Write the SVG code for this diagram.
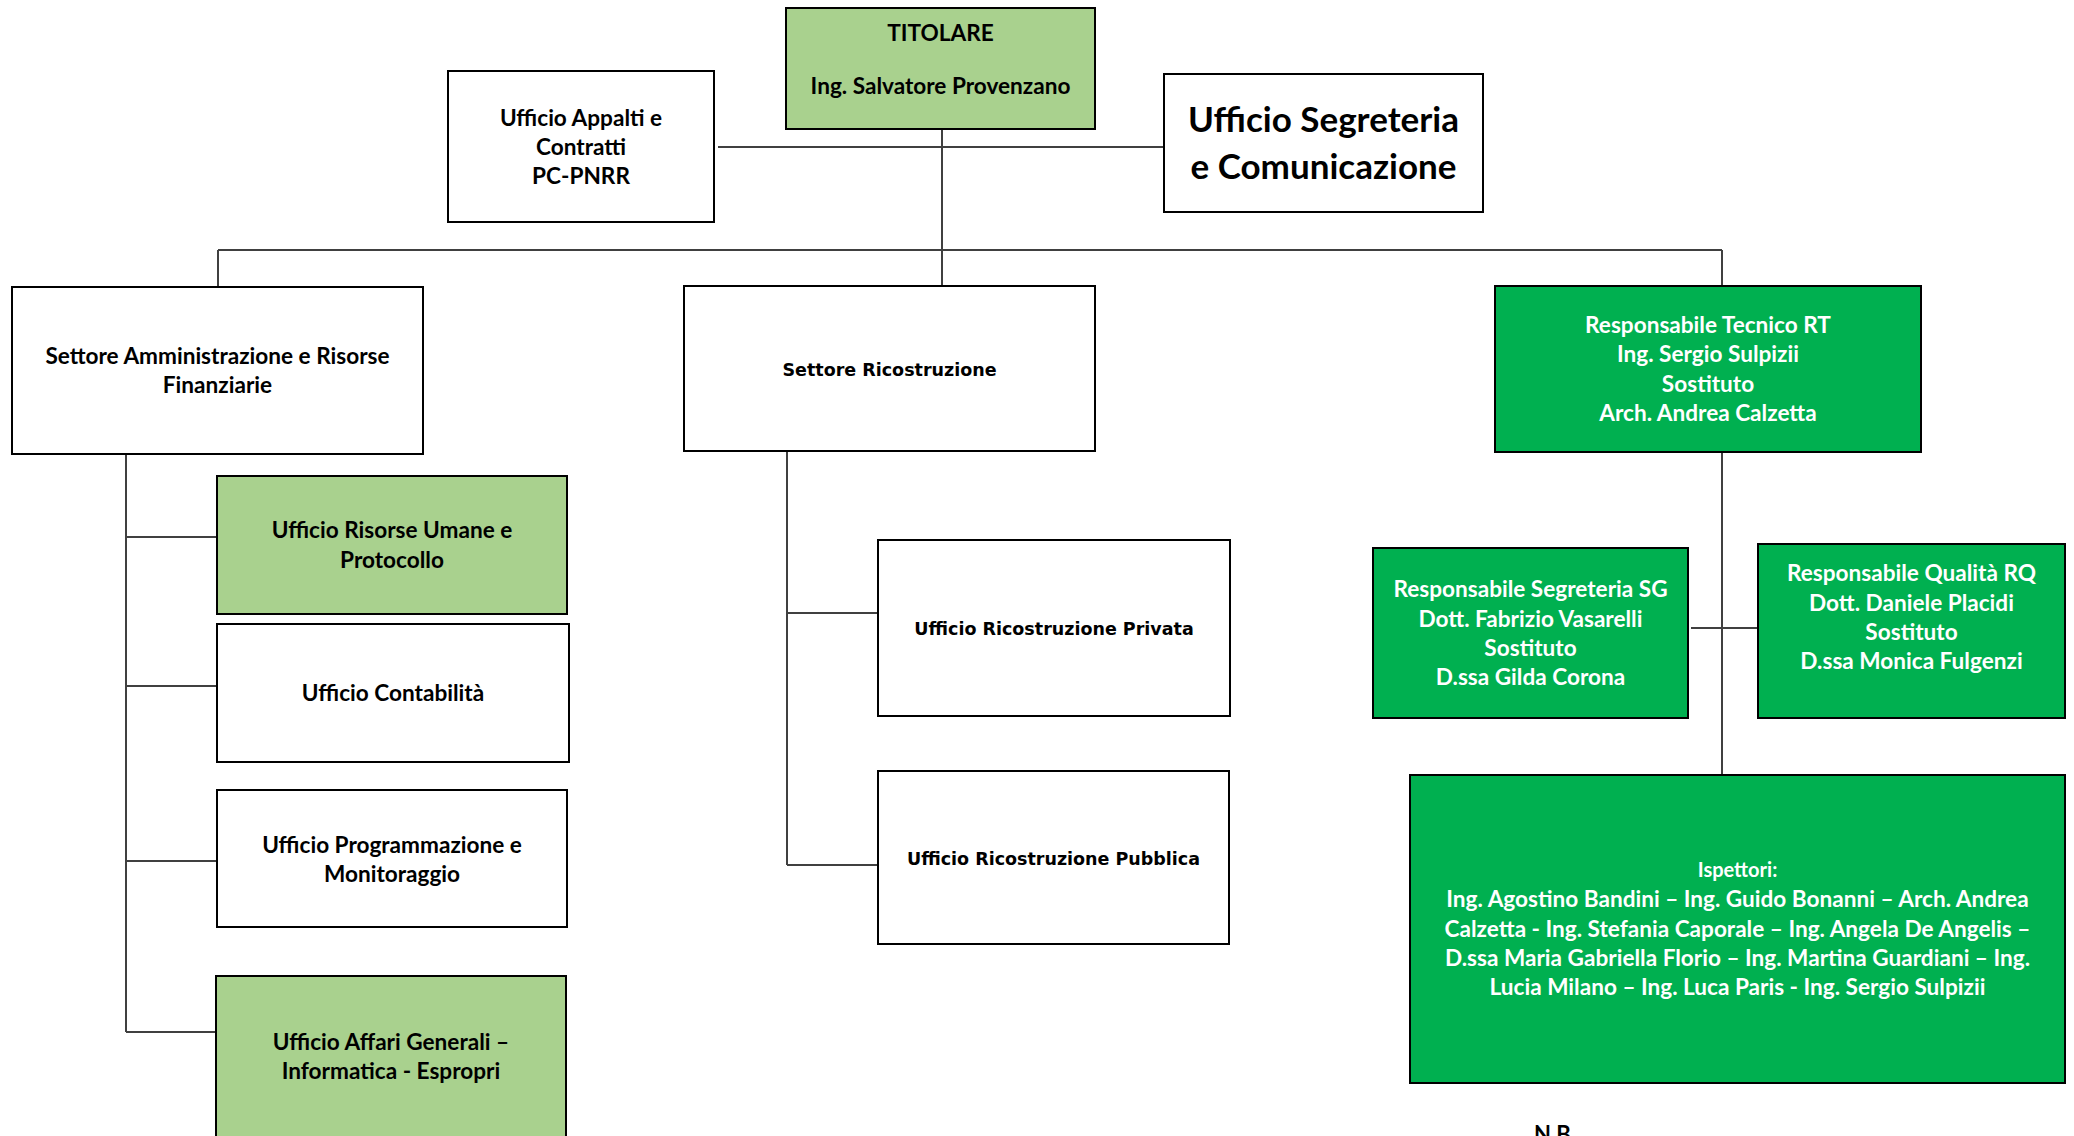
<svg xmlns="http://www.w3.org/2000/svg" width="2074" height="1136" viewBox="0 0 2074 1136">
<style>
.box{stroke:#000;stroke-width:2}
.w{fill:#fff}
.lg{fill:#a9d18e}
.g{fill:#00b050}
.t{font-family:Lato,"Open Sans",sans-serif;font-weight:bold;font-size:22.6px;fill:#000;text-anchor:middle}
.tw{fill:#fff}
.v{font-family:"DejaVu Sans",Verdana,sans-serif;font-weight:bold;font-size:17.5px;fill:#000;text-anchor:middle}
.c{stroke:#404040;stroke-width:2;fill:none}
</style>
<rect width="2074" height="1136" fill="#fff"/>
<g id="connectors">
<line class="c" x1="718" y1="147" x2="1164" y2="147"/>
<line class="c" x1="942" y1="129" x2="942" y2="286"/>
<line class="c" x1="218" y1="250" x2="1722" y2="250"/>
<line class="c" x1="218" y1="250" x2="218" y2="287"/>
<line class="c" x1="1722" y1="250" x2="1722" y2="286"/>
<line class="c" x1="126" y1="454" x2="126" y2="1032"/>
<line class="c" x1="126" y1="537" x2="217" y2="537"/>
<line class="c" x1="126" y1="686" x2="217" y2="686"/>
<line class="c" x1="126" y1="861" x2="217" y2="861"/>
<line class="c" x1="126" y1="1032" x2="216" y2="1032"/>
<line class="c" x1="787" y1="451" x2="787" y2="865"/>
<line class="c" x1="787" y1="613" x2="878" y2="613"/>
<line class="c" x1="787" y1="865" x2="878" y2="865"/>
<line class="c" x1="1722" y1="452" x2="1722" y2="775"/>
<line class="c" x1="1691" y1="628" x2="1758" y2="628"/>
</g>
<g id="titolare">
<rect class="box lg" x="786" y="8" width="309" height="121"/>
<text class="t" x="940.5" y="41">TITOLARE</text>
<text class="t" x="940.5" y="94">Ing. Salvatore Provenzano</text>
</g>
<g id="appalti">
<rect class="box w" x="448" y="71" width="266" height="151"/>
<text class="t" x="581" y="126">Ufficio Appalti e</text>
<text class="t" x="581" y="155">Contratti</text>
<text class="t" x="581" y="184">PC-PNRR</text>
</g>
<g id="segreteria">
<rect class="box w" x="1164" y="74" width="319" height="138"/>
<text class="t" x="1323.5" y="132" style="font-size:35px">Ufficio Segreteria</text>
<text class="t" x="1323.5" y="179" style="font-size:35px">e Comunicazione</text>
</g>
<g id="settore-amm">
<rect class="box w" x="12" y="287" width="411" height="167"/>
<text class="t" x="217.5" y="364">Settore Amministrazione e Risorse</text>
<text class="t" x="217.5" y="393">Finanziarie</text>
</g>
<g id="settore-ric">
<rect class="box w" x="684" y="286" width="411" height="165"/>
<text class="v" x="889.5" y="376">Settore Ricostruzione</text>
</g>
<g id="rt">
<rect class="box g" x="1495" y="286" width="426" height="166"/>
<text class="t tw" x="1708" y="333">Responsabile Tecnico RT</text>
<text class="t tw" x="1708" y="362">Ing. Sergio Sulpizii</text>
<text class="t tw" x="1708" y="392">Sostituto</text>
<text class="t tw" x="1708" y="421">Arch. Andrea Calzetta</text>
</g>
<g id="risorse-umane">
<rect class="box lg" x="217" y="476" width="350" height="138"/>
<text class="t" x="392" y="538">Ufficio Risorse Umane e</text>
<text class="t" x="392" y="568">Protocollo</text>
</g>
<g id="contabilita">
<rect class="box w" x="217" y="624" width="352" height="138"/>
<text class="t" x="393" y="701">Ufficio Contabilità</text>
</g>
<g id="programmazione">
<rect class="box w" x="217" y="790" width="350" height="137"/>
<text class="t" x="392" y="853">Ufficio Programmazione e</text>
<text class="t" x="392" y="882">Monitoraggio</text>
</g>
<g id="affari">
<rect class="box lg" x="216" y="976" width="350" height="170"/>
<text class="t" x="391" y="1050">Ufficio Affari Generali –</text>
<text class="t" x="391" y="1079">Informatica - Espropri</text>
</g>
<g id="privata">
<rect class="box w" x="878" y="540" width="352" height="176"/>
<text class="v" x="1054" y="635">Ufficio Ricostruzione Privata</text>
</g>
<g id="pubblica">
<rect class="box w" x="878" y="771" width="351" height="173"/>
<text class="v" x="1053.5" y="865">Ufficio Ricostruzione Pubblica</text>
</g>
<g id="sg">
<rect class="box g" x="1373" y="548" width="315" height="170"/>
<text class="t tw" x="1530.5" y="597">Responsabile Segreteria SG</text>
<text class="t tw" x="1530.5" y="627">Dott. Fabrizio Vasarelli</text>
<text class="t tw" x="1530.5" y="656">Sostituto</text>
<text class="t tw" x="1530.5" y="685">D.ssa Gilda Corona</text>
</g>
<g id="rq">
<rect class="box g" x="1758" y="544" width="307" height="174"/>
<text class="t tw" x="1911.5" y="581">Responsabile Qualità RQ</text>
<text class="t tw" x="1911.5" y="611">Dott. Daniele Placidi</text>
<text class="t tw" x="1911.5" y="640">Sostituto</text>
<text class="t tw" x="1911.5" y="669">D.ssa Monica Fulgenzi</text>
</g>
<g id="ispettori">
<rect class="box g" x="1410" y="775" width="655" height="308"/>
<text class="t tw" x="1737.5" y="877" style="font-size:20px">Ispettori:</text>
<text class="t tw" x="1737.5" y="907">Ing. Agostino Bandini – Ing. Guido Bonanni – Arch. Andrea</text>
<text class="t tw" x="1737.5" y="937">Calzetta - Ing. Stefania Caporale – Ing. Angela De Angelis –</text>
<text class="t tw" x="1737.5" y="966">D.ssa Maria Gabriella Florio – Ing. Martina Guardiani – Ing.</text>
<text class="t tw" x="1737.5" y="995">Lucia Milano – Ing. Luca Paris - Ing. Sergio Sulpizii</text>
</g>
<text class="t" x="1555" y="1142" style="font-size:22px">N.B.</text>
</svg>
